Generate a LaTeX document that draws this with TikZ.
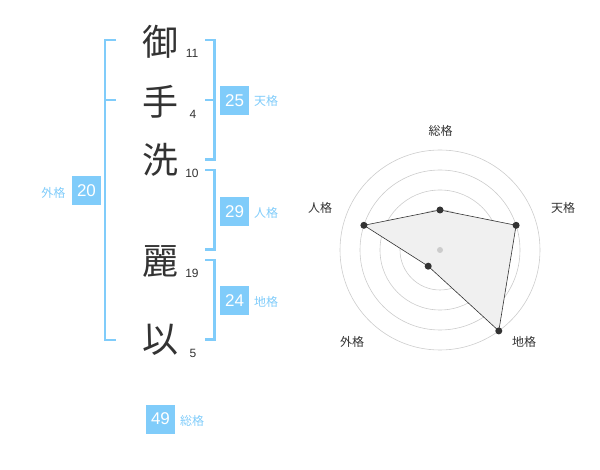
\documentclass[tikz,border=0pt]{standalone}
\usepackage{fontspec}
\setmainfont{Liberation Sans}
\newfontfamily\cjk{Noto Sans CJK JP}
\definecolor{lblue}{RGB}{128,204,250}
\definecolor{ink}{RGB}{51,51,51}
\definecolor{ringc}{RGB}{204,204,204}
\definecolor{fillc}{RGB}{240,240,240}
\begin{document}
\begin{tikzpicture}[x=1pt,y=-1pt,
  kanji/.style={font=\cjk\fontsize{36}{36}\selectfont,text=ink,inner sep=0pt},
  stroke/.style={font=\fontsize{12}{12}\selectfont,text=ink,inner sep=0pt},
  valbox/.style={fill=lblue,text=white,minimum width=29pt,minimum height=29pt,inner sep=0pt,font=\fontsize{17}{17}\selectfont},
  vallabel/.style={font=\cjk\fontsize{12}{12}\selectfont,text=lblue,inner sep=0pt},
  brack/.style={draw=lblue,line width=2.5pt},
  ring/.style={draw=ringc,line width=0.6pt},
  axlabel/.style={font=\cjk\fontsize{12}{12}\selectfont,text=ink,inner sep=0pt},
  dot/.style={circle,fill=ink,inner sep=0pt,minimum size=7pt}]
\useasboundingbox (0,0) rectangle (600,470);
% kanji
\node[kanji] (k1) at (160,42) {御};
\node[kanji] (k2) at (160,102) {手};
\node[kanji] (k3) at (160,160) {洗};
\node[kanji] (k4) at (160,262) {麗};
\node[kanji] (k5) at (160,340) {以};
\node[stroke] (s1) at (192,53) {11};
\node[stroke] (s2) at (193,114) {4};
\node[stroke] (s3) at (192,173) {10};
\node[stroke] (s4) at (192,273) {19};
\node[stroke] (s5) at (193,353) {5};
% brackets
\draw[brack] (116,40) -- (105,40) -- (105,340) -- (116,340);
\draw[brack] (105,100) -- (116,100);
\draw[brack] (205,40) -- (214.5,40) -- (214.5,159.5) -- (205,159.5);
\draw[brack] (205,100) -- (214.5,100);
\draw[brack] (205,170) -- (214.5,170) -- (214.5,249.5) -- (205,249.5);
\draw[brack] (205,260) -- (214.5,260) -- (214.5,339.5) -- (205,339.5);
% values
\node[valbox] (v1) at (234.5,100.5) {25};
\node[vallabel] (l1) at (266,101) {天格};
\node[valbox] (v2) at (234.5,211.5) {29};
\node[vallabel] (l2) at (266,213) {人格};
\node[valbox] (v3) at (234.5,300.5) {24};
\node[vallabel] (l3) at (266,302) {地格};
\node[valbox] (v4) at (86.5,190.5) {20};
\node[vallabel] (l4) at (53.5,193) {外格};
\node[valbox] (v5) at (160.5,419) {49};
\node[vallabel] (l5) at (192,421) {総格};
% radar
\coordinate (c) at (440,250);
\foreach \r in {20,40,60,80,100} \draw[ring] (c) circle[radius=\r];
\coordinate (p1) at (440,210);
\coordinate (p2) at (516.1,225.3);
\coordinate (p3) at (498.8,330.9);
\coordinate (p4) at (428.2,266.2);
\coordinate (p5) at (363.9,225.3);
\filldraw[fill=fillc,draw=ink,line width=0.6pt] (p1) -- (p2) -- (p3) -- (p4) -- (p5) -- cycle;
\node[circle,fill=ringc,inner sep=0pt,minimum size=6pt] (cd) at (c) {};
\foreach \p in {p1,p2,p3,p4,p5} \node[dot] at (\p) {};
\node[axlabel] (a1) at (440.5,131) {総格};
\node[axlabel] (a2) at (563,208) {天格};
\node[axlabel] (a3) at (524,342) {地格};
\node[axlabel] (a4) at (352,342) {外格};
\node[axlabel] (a5) at (320,208) {人格};
\end{tikzpicture}
\end{document}
